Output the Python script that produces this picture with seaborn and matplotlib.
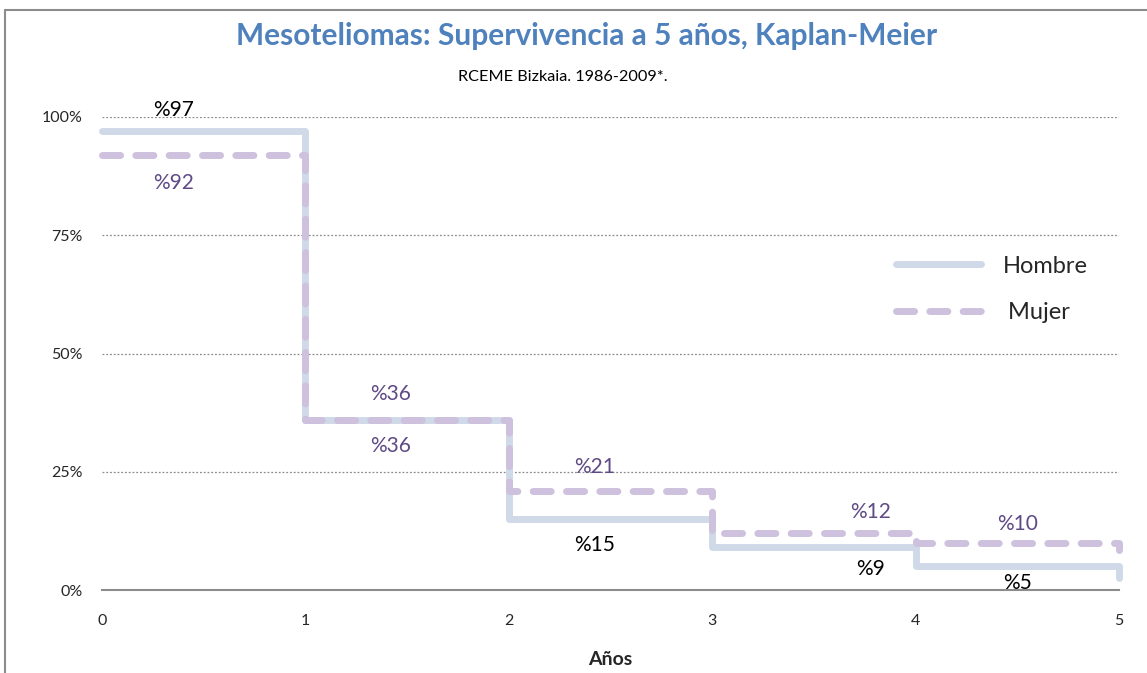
"""Mesoteliomas: Kaplan-Meier survival curve by sex (RCEME Bizkaia)."""

import matplotlib
matplotlib.use("Agg")
import matplotlib.pyplot as plt
from matplotlib.lines import Line2D
import pandas as pd
import seaborn as sns


YEARS = [0, 1, 2, 3, 4, 5]
HOMBRE = [97, 36, 15, 9, 5, 2.5]
MUJER = [92, 36, 21, 12, 10, 8.5]
HOMBRE_LABELS = ["%97", "%36", "%15", "%9", "%5"]
MUJER_LABELS = ["%92", "%36", "%21", "%12", "%10"]
Y_TICKS = [0, 25, 50, 75, 100]

C_HOMBRE = "#d0d9e8"
C_MUJER = "#cdc1de"
C_MUJER_TXT = "#5f4a86"
DASH = (0, (2.6, 2.2))

sns.set_style("white")
plt.rcParams["font.family"] = ["Lato", "DejaVu Sans"]

fig = plt.figure(figsize=(11.47, 6.73), dpi=100)
ax = fig.add_axes([102 / 1147, 1 - 590 / 673, (1119 - 102) / 1147, (590 - 117) / 673])

df = pd.DataFrame({"year": YEARS, "Hombre": HOMBRE, "Mujer": MUJER})

sns.lineplot(data=df, x="year", y="Hombre", ax=ax, color=C_HOMBRE, lw=5,
             drawstyle="steps-post", solid_joinstyle="round", clip_on=False)
sns.lineplot(data=df, x="year", y="Mujer", ax=ax, color=C_MUJER, lw=5,
             linestyle=DASH, drawstyle="steps-post",
             dash_capstyle="round", clip_on=False)

# ── value labels ──────────────────────────────────────────────
lx = [0.35, 1.42, 2.42, 3.78, 4.5]
h_dy = [4.5, -5.5, -5.5, -4.5, -3.5]
m_dy = [-6, 5.5, 5, 4.5, 4]
for i in range(5):
    ax.text(lx[i], HOMBRE[i] + h_dy[i], HOMBRE_LABELS[i], ha="center", va="center",
            fontsize=15, color="#5f4a86" if i == 1 else "black")
    ax.text(lx[i], MUJER[i] + m_dy[i], MUJER_LABELS[i], ha="center", va="center",
            fontsize=15, color=C_MUJER_TXT)

# ── axes styling ──────────────────────────────────────────────
ax.set_xlim(0, 5)
ax.set_ylim(0, 100)
ax.set_yticks(Y_TICKS)
ax.set_yticklabels([f"{v}%" for v in Y_TICKS], fontsize=11.5)
ax.set_xticks(YEARS)
ax.set_xticklabels([str(v) for v in YEARS], fontsize=11.5)
ax.tick_params(axis="y", length=0, pad=14)
ax.tick_params(axis="x", length=0, pad=17)
for v in Y_TICKS[1:]:
    ax.axhline(v, color="#8c8c8c", lw=0.9, ls=(0, (1.5, 1.5)), zorder=0)
for s in ["top", "right", "left"]:
    ax.spines[s].set_visible(False)
ax.spines["bottom"].set_color("#8c8c8c")
ax.spines["bottom"].set_linewidth(1.5)
ax.set_ylabel("")
ax.set_xlabel("Años", fontsize=14, fontweight="bold", labelpad=17)

handles = [
    Line2D([], [], color=C_HOMBRE, lw=5, solid_capstyle="round"),
    Line2D([], [], color=C_MUJER, lw=5, linestyle=DASH, dash_capstyle="round"),
]
ax.legend(handles, ["Hombre", " Mujer"], loc="upper left", bbox_to_anchor=(0.76, 0.752),
          frameon=False, fontsize=17, handlelength=3.6, handletextpad=0.9, labelspacing=1.08)

fig.text(0.511, 0.946, "Mesoteliomas: Supervivencia a 5 años, Kaplan-Meier",
         ha="center", va="center", fontsize=21.5, fontweight="bold", color="#4f81bd")
fig.text(0.491, 0.886, "RCEME Bizkaia. 1986-2009*.", ha="center", va="center",
         fontsize=11.7, color="black")

# chart frame
fig.add_artist(Line2D([5 / 1147, 5 / 1147], [0, 1 - 10 / 673], color="#8c8c8c", lw=1.5))
fig.add_artist(Line2D([5 / 1147, 1], [1 - 10 / 673, 1 - 10 / 673], color="#8c8c8c", lw=1.5))

fig.savefig("out.png", dpi=100)
